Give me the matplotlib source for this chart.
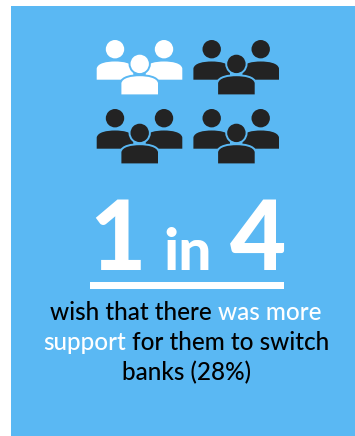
import matplotlib
matplotlib.use('Agg')
import matplotlib.pyplot as plt
from matplotlib.patches import Circle, PathPatch, Rectangle
from matplotlib.path import Path

BLUE = '#5AB8F3'
DARK = '#232323'

# pictogram: four groups of people, one of them highlighted
group_cols = [0, 1, 0, 1]
group_rows = [0, 0, 1, 1]
highlighted = [True, False, False, False]

big_number_left = '1'
big_word = 'in'
big_number_right = '4'

# each line is a list of (text, colour) runs
caption_lines = [
    [('wish that there ', 'black'), ('was more', 'white')],
    [('support', 'white'), (' for them to switch', 'black')],
    [('banks (28%)', 'black')],
]

fig = plt.figure(figsize=(3.55, 4.36), dpi=100)
ax = fig.add_axes([0, 0, 1, 1])
ax.set_xlim(0, 355)
ax.set_ylim(436, 0)
ax.axis('off')

ax.add_patch(Rectangle((10.7, 6), 345, 430, fc=BLUE, ec='none'))


def person(cx, head_y, color, halo=0):
    # head plus a domed body, bottom edge is flat
    top = head_y + 12.3
    bottom = head_y + 30.5
    left = cx - 18.3
    right = cx + 18.3
    verts = [(left, bottom), (left, top + 7), (left + 1, top + 1.5), (cx - 8, top), (cx, top),
             (cx + 8, top), (right - 1, top + 1.5), (right, top + 7), (right, bottom), (left, bottom)]
    codes = [Path.MOVETO, Path.LINETO, Path.CURVE4, Path.CURVE4, Path.CURVE4,
             Path.CURVE4, Path.CURVE4, Path.CURVE4, Path.LINETO, Path.CLOSEPOLY]
    if halo:
        # gap that separates this person from the ones behind
        ax.add_patch(PathPatch(Path(verts, codes), fc=BLUE, ec=BLUE, lw=halo, joinstyle='round'))
        ax.add_patch(Circle((cx, head_y), 9.2, fc=BLUE, ec=BLUE, lw=halo))
    ax.add_patch(PathPatch(Path(verts, codes), fc=color, ec='none'))
    ax.add_patch(Circle((cx, head_y), 9.2, fc=color, ec='none'))


def group(x0, y0, color):
    person(x0 + 18, y0 + 9.2, color)
    person(x0 + 67, y0 + 9.2, color)
    person(x0 + 42.7, y0 + 23.9, color, halo=2.8)


for col, row, hl in zip(group_cols, group_rows, highlighted):
    group(97 + col * 96.7, 40 + row * 69, 'white' if hl else DARK)

big_font = dict(fontweight='black', family='Lato', color='white', va='baseline', ha='center')
ax.text(117, 270, big_number_left, fontsize=70, **big_font)
ax.text(187.5, 270, big_word, fontsize=42, **big_font)
ax.text(258, 270, big_number_right, fontsize=70, **big_font)
ax.add_patch(Rectangle((89.5, 281.7), 194.5, 7, fc='white', ec='none'))

# lay the coloured runs out one after another, centred on the panel
renderer = fig.canvas.get_renderer()
baselines = [320, 350, 380]
for runs, base in zip(caption_lines, baselines):
    texts = [ax.text(0, base, s, fontsize=17.5, family='Lato', fontweight='medium', color=c, va='baseline')
             for s, c in runs]
    widths = [renderer.get_text_width_height_descent(t.get_text(), t.get_fontproperties(), False)[0]
              for t in texts]
    x = 186 - sum(widths) / 2
    for t, w in zip(texts, widths):
        t.set_x(x)
        x += w

fig.savefig('out.png', dpi=100)
